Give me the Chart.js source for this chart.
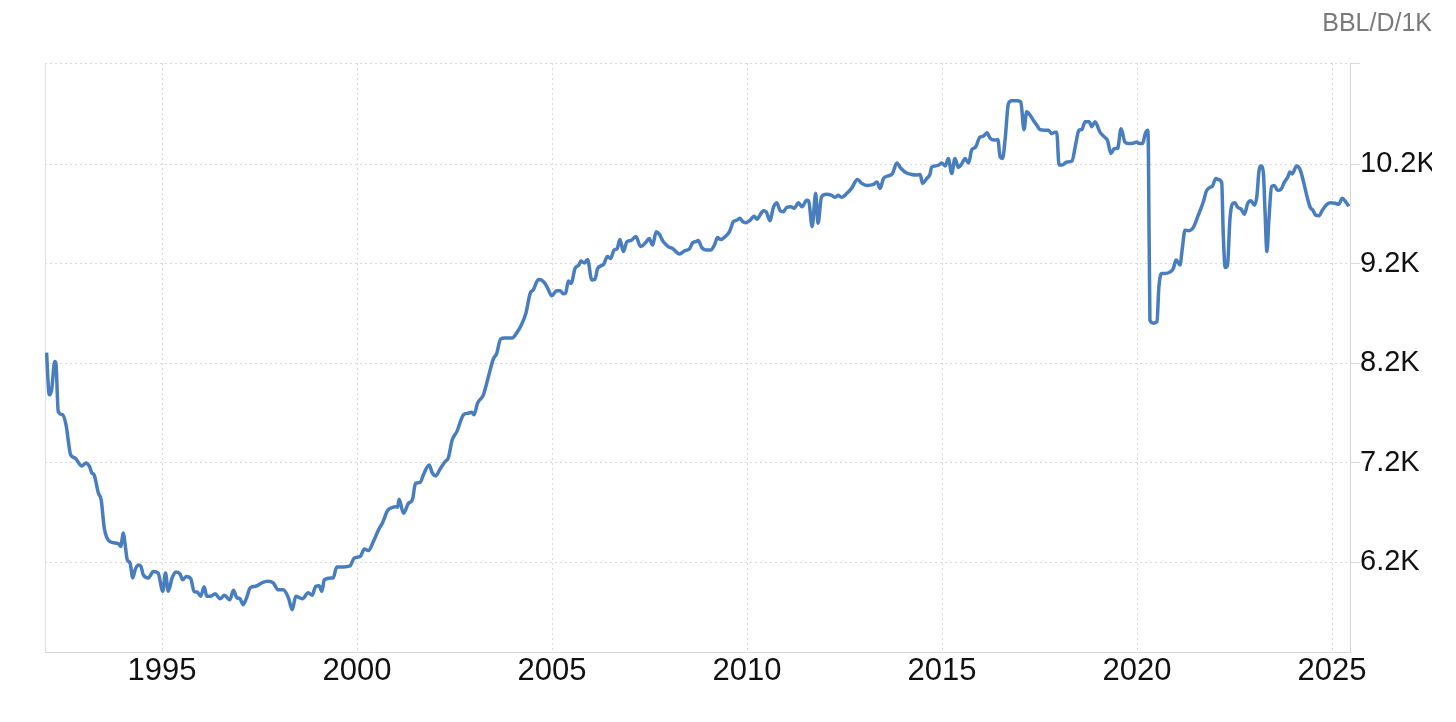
<!DOCTYPE html>
<html>
<head>
<meta charset="utf-8" />
<title>BBL/D/1K</title>
<script src="https://cdn.jsdelivr.net/npm/chart.js@4.4.1/dist/chart.umd.min.js"></script>
<style>
  body {
    margin: 0;
    background: #fff;
  }
  #myChart {
    display: block;
  }
</style>
</head>
<body>
<canvas id="myChart" width="1456" height="722"></canvas>
<script>
// monthly-ish readings, decimal year -> thousand barrels per day
const years = [
  1992.04, 1992.11, 1992.17, 1992.25, 1992.28, 1992.34, 1992.45, 1992.54, 1992.66, 1992.77,
  1992.94, 1993.05, 1993.14, 1993.2, 1993.26, 1993.37, 1993.44, 1993.52, 1993.66, 1993.88,
  1993.94, 1994.01, 1994.05, 1994.11, 1994.18, 1994.25, 1994.31, 1994.39, 1994.46, 1994.52,
  1994.65, 1994.78, 1994.9, 1995.02, 1995.09, 1995.16, 1995.26, 1995.36, 1995.46, 1995.53,
  1995.62, 1995.74, 1995.82, 1995.91, 1995.99, 1996.08, 1996.15, 1996.25, 1996.36, 1996.49,
  1996.6, 1996.74, 1996.83, 1996.92, 1997.0, 1997.08, 1997.17, 1997.26, 1997.4, 1997.56,
  1997.71, 1997.85, 1997.98, 1998.11, 1998.24, 1998.34, 1998.43, 1998.6, 1998.75, 1998.85,
  1998.94, 1999.03, 1999.1, 1999.16, 1999.33, 1999.39, 1999.48, 1999.65, 1999.82, 1999.93,
  2000.08, 2000.19, 2000.29, 2000.42, 2000.56, 2000.65, 2000.78, 2000.89, 2000.99, 2001.04,
  2001.08, 2001.19, 2001.32, 2001.42, 2001.5, 2001.62, 2001.7, 2001.85, 2001.93, 2002.02,
  2002.13, 2002.26, 2002.34, 2002.44, 2002.56, 2002.73, 2002.85, 2002.94, 2003.0, 2003.09,
  2003.24, 2003.38, 2003.5, 2003.58, 2003.68, 2003.79, 2003.97, 2004.09, 2004.21, 2004.33,
  2004.44, 2004.52, 2004.65, 2004.72, 2004.82, 2004.89, 2004.99, 2005.12, 2005.21, 2005.29,
  2005.35, 2005.42, 2005.49, 2005.59, 2005.69, 2005.74, 2005.83, 2005.91, 2006.02, 2006.1,
  2006.17, 2006.32, 2006.42, 2006.5, 2006.59, 2006.67, 2006.74, 2006.83, 2006.92, 2007.02,
  2007.15, 2007.27, 2007.4, 2007.49, 2007.58, 2007.67, 2007.75, 2007.85, 2007.98, 2008.09,
  2008.27, 2008.41, 2008.52, 2008.61, 2008.69, 2008.75, 2008.84, 2008.95, 2009.07, 2009.18,
  2009.24, 2009.33, 2009.44, 2009.55, 2009.65, 2009.74, 2009.82, 2009.89, 2009.97, 2010.08,
  2010.18, 2010.26, 2010.33, 2010.42, 2010.49, 2010.59, 2010.67, 2010.76, 2010.85, 2010.93,
  2011.02, 2011.12, 2011.21, 2011.32, 2011.41, 2011.53, 2011.58, 2011.67, 2011.76, 2011.82,
  2011.91, 2012.04, 2012.17, 2012.26, 2012.33, 2012.43, 2012.56, 2012.68, 2012.83, 2012.94,
  2013.07, 2013.24, 2013.33, 2013.41, 2013.5, 2013.62, 2013.73, 2013.84, 2013.95, 2014.09,
  2014.22, 2014.35, 2014.44, 2014.5, 2014.61, 2014.69, 2014.73, 2014.82, 2014.92, 2014.99,
  2015.08, 2015.16, 2015.25, 2015.33, 2015.42, 2015.51, 2015.59, 2015.68, 2015.76, 2015.86,
  2015.97, 2016.06, 2016.15, 2016.23, 2016.34, 2016.43, 2016.49, 2016.55, 2016.62, 2016.7,
  2016.79, 2016.92, 2017.02, 2017.1, 2017.17, 2017.26, 2017.34, 2017.43, 2017.51, 2017.64,
  2017.73, 2017.81, 2017.9, 2017.94, 2018.0, 2018.08, 2018.2, 2018.33, 2018.43, 2018.51,
  2018.58, 2018.67, 2018.77, 2018.84, 2018.92, 2019.05, 2019.18, 2019.24, 2019.33, 2019.42,
  2019.5, 2019.59, 2019.69, 2019.78, 2019.91, 2019.99, 2020.06, 2020.14, 2020.21, 2020.27,
  2020.29, 2020.33, 2020.42, 2020.51, 2020.56, 2020.63, 2020.72, 2020.85, 2020.93, 2021.0,
  2021.1, 2021.16, 2021.23, 2021.33, 2021.44, 2021.57, 2021.7, 2021.78, 2021.87, 2021.93,
  2022.02, 2022.08, 2022.17, 2022.21, 2022.26, 2022.32, 2022.38, 2022.44, 2022.51, 2022.57,
  2022.67, 2022.75, 2022.84, 2022.92, 2023.01, 2023.07, 2023.13, 2023.18, 2023.24, 2023.28,
  2023.33, 2023.38, 2023.45, 2023.52, 2023.6, 2023.69, 2023.78, 2023.86, 2023.92, 2023.98,
  2024.09, 2024.18, 2024.26, 2024.35, 2024.44, 2024.51, 2024.58, 2024.67, 2024.75, 2024.87,
  2024.97, 2025.08, 2025.17, 2025.26, 2025.35, 2025.43,
];

const production = [
  8310, 7885, 7935, 8220, 8200, 7715, 7685, 7580, 7280, 7250,
  7170, 7200, 7165, 7100, 7080, 6895, 6830, 6545, 6410, 6390,
  6360, 6495, 6395, 6225, 6195, 6045, 6125, 6175, 6160, 6075,
  6045, 6110, 6095, 5910, 6095, 5910, 6045, 6105, 6085, 6025,
  6060, 6035, 5910, 5900, 5860, 5955, 5860, 5860, 5885, 5835,
  5870, 5825, 5920, 5845, 5835, 5775, 5845, 5945, 5960, 5995,
  6010, 5995, 5925, 5925, 5845, 5725, 5860, 5835, 5895, 5870,
  5960, 5965, 5910, 6025, 6045, 6045, 6155, 6155, 6165, 6245,
  6260, 6335, 6320, 6410, 6535, 6595, 6720, 6750, 6760, 6755,
  6835, 6695, 6795, 6830, 6995, 7005, 7080, 7180, 7100, 7070,
  7140, 7215, 7250, 7430, 7515, 7685, 7700, 7710, 7685, 7800,
  7885, 8085, 8250, 8300, 8445, 8455, 8455, 8505, 8585, 8705,
  8905, 8940, 9045, 9040, 9005, 8955, 8880, 8930, 8930, 8900,
  8910, 9030, 9005, 9155, 9190, 9230, 9210, 9245, 9040, 9045,
  9155, 9195, 9275, 9255, 9340, 9355, 9445, 9325, 9425, 9435,
  9475, 9375, 9415, 9455, 9390, 9525, 9500, 9425, 9375, 9355,
  9300, 9335, 9350, 9415, 9425, 9435, 9365, 9340, 9340, 9405,
  9465, 9445, 9475, 9525, 9625, 9640, 9660, 9625, 9615, 9640,
  9680, 9650, 9690, 9735, 9725, 9635, 9760, 9815, 9735, 9725,
  9770, 9775, 9760, 9815, 9775, 9840, 9835, 9575, 9910, 9610,
  9875, 9900, 9890, 9870, 9890, 9870, 9910, 9960, 10050, 10010,
  9990, 10000, 10025, 9960, 10060, 10085, 10110, 10215, 10160, 10115,
  10100, 10095, 10100, 10010, 10060, 10100, 10170, 10185, 10195, 10215,
  10185, 10260, 10110, 10260, 10170, 10210, 10260, 10215, 10345, 10375,
  10475, 10485, 10520, 10465, 10445, 10450, 10275, 10260, 10460, 10810,
  10840, 10840, 10830, 10550, 10730, 10695, 10645, 10595, 10550, 10545,
  10545, 10510, 10525, 10525, 10195, 10195, 10225, 10235, 10410, 10545,
  10550, 10630, 10630, 10580, 10630, 10525, 10470, 10445, 10310, 10360,
  10360, 10560, 10425, 10410, 10415, 10425, 10410, 10410, 10510, 10545,
  10375, 8635, 8605, 8620, 8970, 9105, 9105, 9120, 9155, 9240,
  9190, 9355, 9540, 9535, 9565, 9690, 9825, 9935, 9970, 9980,
  10060, 10050, 10020, 9505, 9165, 9190, 9640, 9800, 9815, 9775,
  9750, 9700, 9810, 9835, 9790, 9875, 10145, 10185, 10110, 9740,
  9325, 9640, 9980, 9990, 9940, 9950, 10025, 10070, 10125, 10105,
  10185, 10150, 10040, 9890, 9770, 9740, 9690, 9685, 9740, 9800,
  9815, 9810, 9800, 9860, 9825, 9780,
];

const xTicks = [1995, 2000, 2005, 2010, 2015, 2020, 2025];
const yTicks = [6200, 7200, 8200, 9200, 10200];
const yTickLabels = ["6.2K", "7.2K", "8.2K", "9.2K", "10.2K"];
const unitLabel = "BBL/D/1K";

const xMin = 1992.0;
const xMax = 2025.46;
const yMin = 5300;
const yMax = 11220;

const gridColor = "#d9d9d9";
const fontFamily = "'Liberation Sans', Arial, sans-serif";

const buildPoints = () => years.map((x, i) => ({ x: x, y: production[i] }));

const ctx = document.getElementById("myChart");

const config = {
  type: "line",
  data: {
    datasets: [
      {
        label: unitLabel,
        data: buildPoints(),
        borderColor: "rgb(72, 125, 190)",
        borderWidth: 3.5,
        pointRadius: 0,
        cubicInterpolationMode: "monotone",
        fill: false,
      },
    ],
  },
  options: {
    responsive: false,
    animation: false,
    devicePixelRatio: 1,
    layout: {
      padding: { left: 45, right: 24, top: 0, bottom: 0 },
    },
    plugins: {
      legend: { display: false },
      tooltip: { enabled: false },
      title: {
        display: true,
        text: unitLabel,
        align: "end",
        color: "#7a7a7a",
        font: { family: fontFamily, size: 25, weight: "normal", lineHeight: 1.2 },
        padding: { top: 9, bottom: 24 },
      },
    },
    scales: {
      x: {
        type: "linear",
        min: xMin,
        max: xMax,
        afterBuildTicks: (scale) => {
          scale.ticks = xTicks.map((v) => ({ value: v }));
        },
        afterFit: (scale) => {
          scale.height = 70;
        },
        ticks: {
          autoSkip: false,
          maxRotation: 0,
          padding: 1,
          color: "#111",
          font: { family: fontFamily, size: 31 },
          callback: (value) => String(value),
        },
        grid: {
          color: gridColor,
          drawTicks: false,
        },
        border: {
          color: "#d4d4d4",
          dash: [2, 3],
        },
      },
      y: {
        type: "linear",
        position: "right",
        min: yMin,
        max: yMax,
        afterBuildTicks: (scale) => {
          // top line of the frame gets an empty tick
          scale.ticks = yTicks.concat([yMax]).map((v) => ({ value: v }));
        },
        afterFit: (scale) => {
          scale.width = 82;
        },
        ticks: {
          padding: 0,
          color: "#111",
          font: { family: fontFamily, size: 29 },
          callback: (value, index) => yTickLabels[index] || "",
        },
        grid: {
          color: gridColor,
          tickLength: 10,
          tickBorderDash: [],
        },
        border: {
          color: "#d4d4d4",
          dash: [2, 3],
        },
      },
      frame: {
        type: "linear",
        position: "left",
        min: 0,
        max: 1,
        afterFit: (scale) => {
          scale.width = 0;
        },
        ticks: { display: false },
        grid: { display: false },
        border: { color: "#e0e0e0" },
      },
    },
  },
};

new Chart(ctx, config);
</script>
</body>
</html>
